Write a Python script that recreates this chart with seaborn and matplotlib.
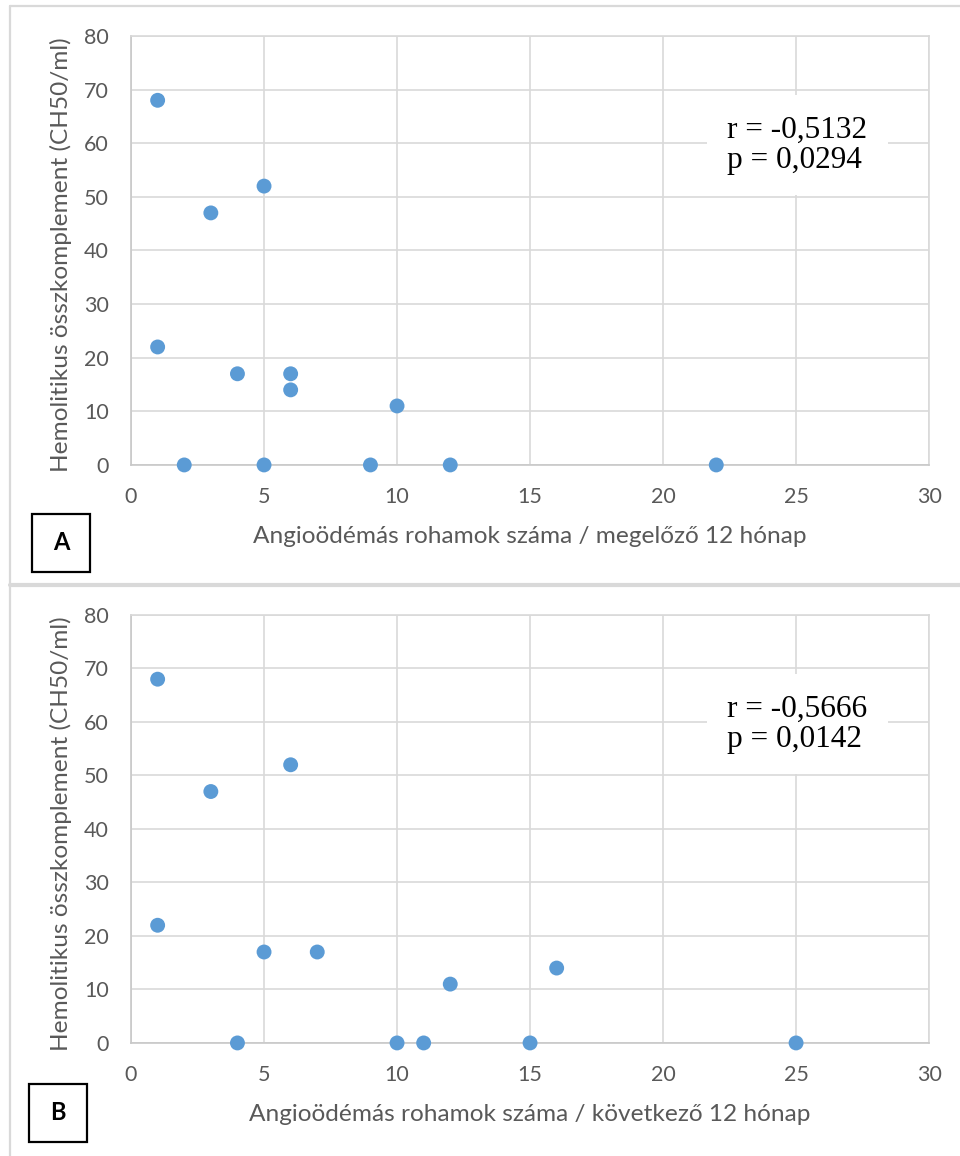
import matplotlib
matplotlib.use("Agg")
import matplotlib.pyplot as plt
import seaborn as sns
import pandas as pd
from matplotlib.lines import Line2D
from matplotlib.patches import Rectangle

# Panel A: attacks in the previous 12 months vs. CH50
attacks_prev = [1, 1, 2, 3, 4, 5, 5, 6, 6, 9, 10, 12, 22]
ch50_prev = [68, 22, 0, 47, 17, 52, 0, 17, 14, 0, 11, 0, 0]

# Panel B: attacks in the following 12 months vs. CH50
attacks_next = [1, 1, 3, 4, 5, 6, 7, 10, 11, 12, 15, 16, 25]
ch50_next = [68, 22, 47, 0, 17, 52, 17, 0, 0, 11, 0, 14, 0]

x_ticks = [0, 5, 10, 15, 20, 25, 30]
y_ticks = [0, 10, 20, 30, 40, 50, 60, 70, 80]

y_label = "Hemolitikus összkomplement (CH50/ml)"
x_label_a = "Angioödémás rohamok száma / megelőző 12 hónap"
x_label_b = "Angioödémás rohamok száma / következő 12 hónap"
stats_a = "r = -0,5132\np = 0,0294"
stats_b = "r = -0,5666\np = 0,0142"

GRID = "#d9d9d9"
TEXT = "#595959"
DOT = "#5b9bd5"

sns.set_style("white")
plt.rcParams["font.family"] = ["Lato", "DejaVu Sans"]


def draw_panel(ax, xs, ys, xlabel, stats):
    '''
    Draws one scatter panel in the Excel-like style of the reference.
    '''
    df = pd.DataFrame({"x": xs, "y": ys})
    sns.scatterplot(data=df, x="x", y="y", ax=ax, color=DOT, s=115,
                    edgecolor="none", clip_on=False, zorder=3)

    ax.set_xlim(0, 30)
    ax.set_ylim(0, 80)
    ax.set_xticks(x_ticks)
    ax.set_yticks(y_ticks)
    ax.tick_params(length=0, labelsize=15.5, labelcolor=TEXT, pad=16)

    ax.grid(True, color=GRID, lw=1.2)
    ax.set_axisbelow(True)
    for side in ax.spines.values():
        side.set_color(GRID)
        side.set_linewidth(1.2)
    ax.spines["bottom"].set_color("#c8c8c8")
    ax.spines["left"].set_color("#c8c8c8")

    ax.set_xlabel(xlabel, fontsize=17.6, color=TEXT)
    ax.set_ylabel(y_label, fontsize=17.6, color=TEXT)
    ax.xaxis.set_label_coords(0.5, -0.143)
    ax.yaxis.set_label_coords(-0.074, 0.49)

    # correlation box (lines left-aligned, block centred)
    ax.text(25.05, 59.6, stats, ha="center", va="center", fontsize=22.5,
            family="Liberation Serif", color="black", linespacing=1.05,
            multialignment="left",
            bbox=dict(boxstyle="square,pad=0.65", fc="white", ec="none"),
            zorder=4)


fig = plt.figure(figsize=(9.6, 11.56), dpi=100)
ax_a = fig.add_axes([0.1365, 0.5978, 0.8313, 0.3711])
ax_b = fig.add_axes([0.1365, 0.0978, 0.8313, 0.3702])

draw_panel(ax_a, attacks_prev, ch50_prev, x_label_a, stats_a)
draw_panel(ax_b, attacks_next, ch50_next, x_label_b, stats_b)

# panel frames
fig.add_artist(Line2D([10 / 960, 1], [1 - 6 / 1156, 1 - 6 / 1156], color=GRID, lw=1.6))
fig.add_artist(Line2D([10 / 960, 10 / 960], [0, 1 - 6 / 1156], color=GRID, lw=1.6))
fig.add_artist(Line2D([10 / 960, 1], [1 - 585 / 1156, 1 - 585 / 1156], color=GRID, lw=3.0))

# panel letters
for letter, x0, y_top in [("A", 32, 514), ("B", 29, 1084)]:
    fig.add_artist(Rectangle((x0 / 960, 1 - (y_top + 58) / 1156), 58 / 960, 58 / 1156,
                             fill=False, ec="black", lw=1.6))
    fig.text((x0 + 29) / 960, 1 - (y_top + 29) / 1156, letter, ha="center", va="center",
             fontsize=17, fontweight="bold", color="black")

fig.savefig("out.png", dpi=100)
